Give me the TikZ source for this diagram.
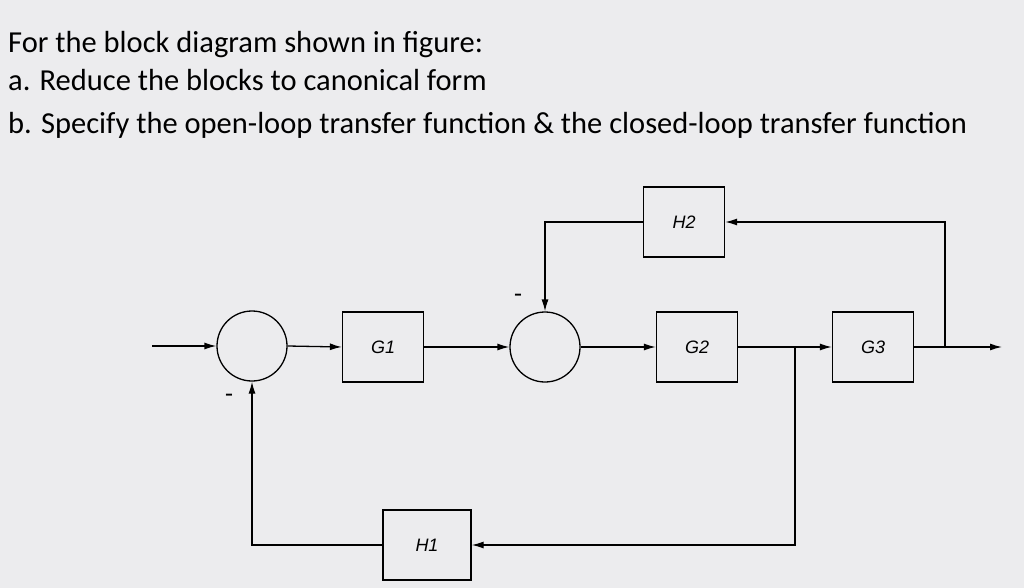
\documentclass[tikz,border=0pt]{standalone}
\usepackage{fontspec}
\setmainfont{Carlito}
\newfontfamily\blockfont{Liberation Sans}
\usetikzlibrary{arrows.meta}
\definecolor{bg}{RGB}{236,236,238}
\begin{document}
\begin{tikzpicture}[x=1pt,y=-1pt,
  blk/.style={draw,line width=1.3pt,minimum width=81pt,minimum height=70pt,inner sep=0pt,font=\blockfont\itshape\fontsize{18}{20}\selectfont},
  sumc/.style={draw,line width=1.3pt,circle,minimum size=70pt,inner sep=0pt},
  arr/.style={line width=1.3pt,-{Latex[length=12pt,width=7pt]}},
  txt/.style={anchor=base west,inner sep=0pt,font=\fontsize{30.5}{34}\selectfont},
  minus/.style={font=\fontsize{26}{28}\selectfont}]
\fill[bg] (0,0) rectangle (1024,588);
\useasboundingbox (0,0) rectangle (1024,588);
\node[txt] (t1) at (8,53) {For the block diagram shown in figure:};
\node[txt] (t2) at (8,91) {a. Reduce the blocks to canonical form};
\node[txt] (t3) at (8,134) {b. Specify the open-loop transfer function \& the closed-loop transfer function};
\node[sumc] (s1) at (252,346) {};
\node[sumc] (s2) at (545,347) {};
\node[blk] (g1) at (383,347) {G1};
\node[blk] (g2) at (697,347) {G2};
\node[blk] (g3) at (873,347) {G3};
\node[blk] (h2) at (684,222) {H2};
\node[blk,minimum width=88pt] (h1) at (427,545) {H1};
\coordinate (in) at (152,346);
\coordinate (out) at (1002,347);
\coordinate (b1) at (795,347);
\coordinate (b2) at (945,347);
\draw[arr] (in) -- (s1.west);
\draw[arr] (s1.east) -- (g1.west);
\draw[arr] (g1.east) -- (s2.west);
\draw[arr] (s2.east) -- (g2.west);
\draw[arr] (g2.east) -- (g3.west);
\draw[arr] (g3.east) -- (out);
\draw[arr] (b2) |- (h2.east);
\draw[arr] (h2.west) -| (s2.north);
\draw[arr] (b1) |- (h1.east);
\draw[arr] (h1.west) -| (s1.south);
\node[minus] (m2) at (518,298) {-};
\node[minus] (m1) at (229,398) {-};
\end{tikzpicture}
\end{document}
